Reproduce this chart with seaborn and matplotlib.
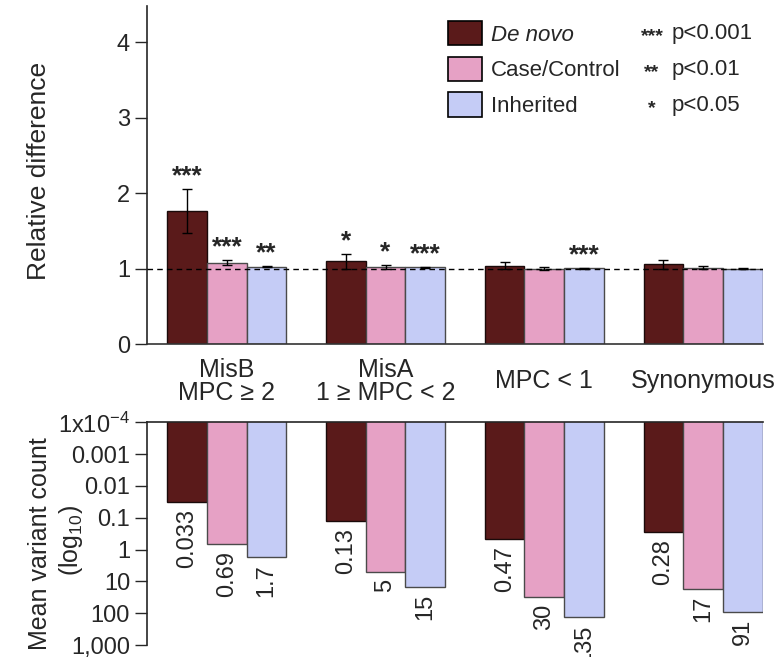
import pandas as pd
import seaborn as sns
import matplotlib.pyplot as plt
import numpy as np
from matplotlib.patches import Patch
from matplotlib.transforms import blended_transform_factory

sns.set_style("ticks")
plt.rcParams["font.family"] = ["Liberation Sans", "DejaVu Sans"]
plt.rcParams["mathtext.fontset"] = "custom"
plt.rcParams["mathtext.rm"] = "Liberation Sans"
plt.rcParams["mathtext.it"] = "Liberation Sans:italic"

# 数据
categories = ["MisB\nMPC ≥ 2", "MisA\n1 ≥ MPC < 2", "MPC < 1", "Synonymous"]
groups = ["De novo", "Case/Control", "Inherited"]
colors = {"De novo": "#5a1a1a", "Case/Control": "#e6a1c5", "Inherited": "#c5ccf6"}
edges = {"De novo": "#1a0a0a", "Case/Control": "#4a4a4a", "Inherited": "#4a4a4a"}

rel_denovo = [1.76, 1.095, 1.04, 1.055]
rel_case = [1.08, 1.02, 1.00, 1.01]
rel_inh = [1.025, 1.015, 1.002, 1.0]
err_denovo = [0.29, 0.095, 0.045, 0.06]
err_case = [0.03, 0.025, 0.02, 0.02]
err_inh = [0.008, 0.006, 0.003, 0.002]
sig_denovo = ["***", "*", "", ""]
sig_case = ["***", "*", "", ""]
sig_inh = ["**", "***", "***", ""]

count_denovo = [0.033, 0.13, 0.47, 0.28]
count_case = [0.69, 5, 30, 17]
count_inh = [1.7, 15, 135, 91]
count_labels = {
    "De novo": ["0.033", "0.13", "0.47", "0.28"],
    "Case/Control": ["0.69", "5", "30", "17"],
    "Inherited": ["1.7", "15", "135", "91"],
}

rel = {"De novo": rel_denovo, "Case/Control": rel_case, "Inherited": rel_inh}
err = {"De novo": err_denovo, "Case/Control": err_case, "Inherited": err_inh}
sig = {"De novo": sig_denovo, "Case/Control": sig_case, "Inherited": sig_inh}
cnt = {"De novo": count_denovo, "Case/Control": count_case, "Inherited": count_inh}

df_rel = pd.DataFrame([(c, g, rel[g][i]) for g in groups for i, c in enumerate(categories)],
                      columns=["category", "group", "value"])
df_cnt = pd.DataFrame([(c, g, cnt[g][i]) for g in groups for i, c in enumerate(categories)],
                      columns=["category", "group", "value"])

fig = plt.figure(figsize=(7.84, 6.57), dpi=100)
ax1 = fig.add_axes([0.1871, 0.4764, 0.786, 0.5145])
ax2 = fig.add_axes([0.1871, 0.01826, 0.786, 0.3389])

# ==================== 上图：相对差异 ====================
sns.barplot(data=df_rel, x="category", y="value", hue="group", hue_order=groups,
            order=categories, palette=colors, width=0.75, saturation=1,
            errorbar=None, legend=False, linewidth=1, ax=ax1)
ax1.axhline(1, color="black", lw=1, ls=(0, (4, 3)), zorder=5)
for g, cont in zip(groups, ax1.containers):
    xs = [p.get_x() + p.get_width() / 2 for p in cont.patches]
    for p in cont.patches:
        p.set_edgecolor(edges[g])
    ax1.errorbar(xs, rel[g], yerr=err[g], fmt="none", ecolor="black",
                 elinewidth=1, capsize=3.5, capthick=1, zorder=6)
    for x, v, e, s in zip(xs, rel[g], err[g], sig[g]):
        if s:
            ax1.annotate(s, (x, v + e), xytext=(0, 4), textcoords="offset points",
                         ha="center", va="baseline", fontsize=19, fontweight="bold")

ax1.set_xlim(-0.505, 3.377)
ax1.set_ylim(0, 4.48)
ax1.set_yticks([0, 1, 2, 3, 4])
ax1.set_xticks([])
ax1.set_xlabel("")
ax1.set_ylabel("")
ax1.tick_params(axis="y", length=9, width=1, labelsize=17, pad=3)
sns.despine(ax=ax1)
for s in ["left", "bottom"]:
    ax1.spines[s].set_linewidth(1.2)
ax1.spines["bottom"].set_color("#333333")

trans = blended_transform_factory(ax1.transData, fig.transFigure)
for i, c in enumerate(categories):
    ax1.text(i, 0.42, c, transform=trans, ha="center", va="center",
             fontsize=18, linespacing=0.95, multialignment="center")

fig.text(0.05, 0.74, "Relative difference", rotation=90, ha="center", va="center", fontsize=19)

# 图例
handles = [Patch(facecolor=colors[g], edgecolor="black", linewidth=1.2) for g in groups]
leg = ax1.legend(handles, groups, loc="upper left", bbox_to_anchor=(0.5714, 0.968),
                 bbox_transform=fig.transFigure, frameon=False, fontsize=16,
                 handlelength=1.55, handleheight=1.3, labelspacing=0.5,
                 handletextpad=0.4, borderpad=0, borderaxespad=0)
leg.get_texts()[0].set_fontstyle("italic")
for k, (st, pv) in enumerate(zip(["***", "**", "*"], ["p<0.001", "p<0.01", "p<0.05"])):
    yy = 1 - (33 + 36 * k) / 657
    fig.text(652 / 784, yy - 0.006, st, ha="center", va="center", fontsize=14, fontweight="bold")
    fig.text(672 / 784, yy, pv, ha="left", va="center", fontsize=16)

# ==================== 下图：平均变异数 ====================
sns.barplot(data=df_cnt, x="category", y="value", hue="group", hue_order=groups,
            order=categories, palette=colors, width=0.75, saturation=1,
            errorbar=None, legend=False, linewidth=1, ax=ax2)
ax2.set_yscale("log")
ax2.set_ylim(1000, 1e-4)
ax2.set_xlim(-0.505, 3.377)
for g, cont in zip(groups, ax2.containers):
    for p, v, lab in zip(cont.patches, cnt[g], count_labels[g]):
        p.set_edgecolor(edges[g])
        ax2.annotate(lab, (p.get_x() + p.get_width() / 2, v), xytext=(0, -5),
                     textcoords="offset points", rotation=90, ha="center", va="top",
                     fontsize=17, annotation_clip=False)
ax2.set_yticks([1e-4, 1e-3, 1e-2, 1e-1, 1, 10, 100, 1000])
ax2.set_yticklabels(["1x10$^{-4}$", "0.001", "0.01", "0.1", "1", "10", "100", "1,000"])
ax2.minorticks_off()
ax2.set_xticks([])
ax2.set_xlabel("")
ax2.set_ylabel("")
ax2.tick_params(axis="y", length=9, width=1, labelsize=17, pad=3)
for s in ["right", "bottom"]:
    ax2.spines[s].set_visible(False)
for s in ["left", "top"]:
    ax2.spines[s].set_linewidth(1.2)

fig.text(40 / 784, 1 - 544 / 657, "Mean variant count", rotation=90, ha="center",
         va="center", fontsize=18)
fig.text(71 / 784, 1 - 541 / 657, "(log$_{10}$)", rotation=90, ha="center",
         va="center", fontsize=18)

fig.savefig("out.png", dpi=100)
plt.close(fig)
